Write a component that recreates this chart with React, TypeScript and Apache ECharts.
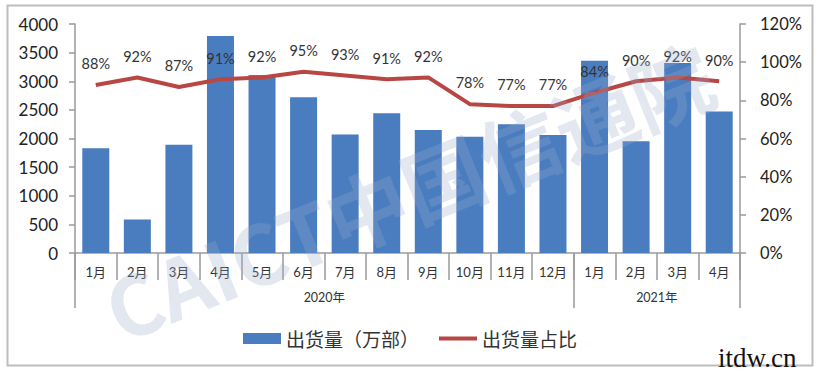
import React, { useEffect, useRef } from "react";
import * as echarts from "echarts";

const months = ["1月", "2月", "3月", "4月", "5月", "6月", "7月", "8月", "9月", "10月", "11月", "12月", "1月", "2月", "3月", "4月"];
const shipments = [1830, 585, 1890, 3790, 3110, 2720, 2070, 2440, 2150, 2030, 2250, 2060, 3360, 1950, 3320, 2470];
const shares = [88, 92, 87, 91, 92, 95, 93, 91, 92, 78, 77, 77, 84, 90, 92, 90];
const yearNames = ["2020年", "2021年"];
const yearSpans = [12, 4];
const leftTicks = { min: 0, max: 4000, interval: 500 };
const rightTicks = { min: 0, max: 120, interval: 20 };
const seriesNames = ["出货量（万部）", "出货量占比"];

const W = 820;
const H = 371;
const GRID = { left: 75, right: 80, top: 24, bottom: 118 };

export default function App() {
  const ref = useRef<HTMLDivElement>(null);
  useEffect(() => {
    if (!ref.current) return;
    const chart = echarts.init(ref.current, undefined, { renderer: "svg" });

    const starts: number[] = [];
    let acc = 0;
    yearSpans.forEach((s) => {
      starts.push(acc);
      acc += s;
    });
    const boundaryIdx = starts.slice();
    const labelIdx = starts.map((s, i) => s + Math.floor(yearSpans[i] / 2));
    const band = (W - GRID.left - GRID.right) / months.length;

    const numFont = "Lato, 'Noto Sans CJK SC', sans-serif";
    const axisColor = "#9a9a9a";
    const barColor = "#4a7dbf";
    const lineColor = "#b84744";

    chart.setOption({
      animation: false,
      backgroundColor: "#ffffff",
      grid: { ...GRID },
      legend: {
        left: 238,
        top: 324,
        itemGap: 20,
        itemWidth: 38,
        itemHeight: 11,
        symbolKeepAspect: false,
        textStyle: { fontSize: 19, color: "#333", fontFamily: "'Noto Sans CJK SC', sans-serif" },
        data: [
          { name: seriesNames[0], icon: "rect" },
          {
            name: seriesNames[1],
            icon: "path://M0 0M0 3.5H40V7.5H0ZM40 11",
            itemStyle: { color: lineColor },
          },
        ],
      },
      xAxis: [
        {
          type: "category",
          data: months,
          position: "bottom",
          axisLine: { show: true, lineStyle: { color: axisColor, width: 1.5 } },
          axisTick: { show: true, interval: 0, length: 27, lineStyle: { color: axisColor, width: 1.5 } },
          axisLabel: { interval: 0, fontSize: 13, color: "#333", margin: 12, fontFamily: numFont },
        },
        {
          type: "category",
          data: months,
          position: "bottom",
          axisLine: { show: false },
          axisTick: {
            show: true,
            length: 55,
            interval: (i: number) => boundaryIdx.includes(i),
            lineStyle: { color: axisColor, width: 1.5 },
          },
          axisLabel: {
            interval: (i: number) => labelIdx.includes(i),
            formatter: (_v: string, i: number) => {
              const k = labelIdx.indexOf(i);
              return k >= 0 ? yearNames[k] : "";
            },
            fontSize: 12.5,
            color: "#333",
            margin: 38,
            padding: [0, band, 0, 0],
            fontFamily: numFont,
          },
        },
      ],
      yAxis: [
        {
          type: "value",
          ...leftTicks,
          axisLine: { show: true, lineStyle: { color: axisColor, width: 1.5 } },
          axisTick: { show: true, length: 6, lineStyle: { color: axisColor, width: 1.5 } },
          splitLine: { show: false },
          axisLabel: {
            fontSize: 17,
            color: "#222",
            margin: 17,
            fontFamily: numFont,
            formatter: (v: number) => String(v),
          },
        },
        {
          type: "value",
          ...rightTicks,
          position: "right",
          axisLine: { show: true, lineStyle: { color: axisColor, width: 1.5 } },
          axisTick: { show: true, length: 6, lineStyle: { color: axisColor, width: 1.5 } },
          splitLine: { show: false },
          axisLabel: { fontSize: 16.5, color: "#222", margin: 20, formatter: "{value}%", fontFamily: numFont },
        },
      ],
      series: [
        {
          name: seriesNames[0],
          type: "bar",
          data: shipments,
          barWidth: 27,
          itemStyle: { color: barColor },
          z: 2,
        },
        {
          name: seriesNames[1],
          type: "line",
          yAxisIndex: 1,
          data: shares,
          symbol: "circle",
          symbolSize: 0.01,
          showSymbol: true,
          lineStyle: { color: lineColor, width: 4 },
          itemStyle: { color: lineColor },
          label: {
            show: true,
            position: "top",
            distance: 14,
            formatter: "{c}%",
            fontSize: 14.5,
            color: "#333",
            fontFamily: numFont,
          },
          z: 3,
        },
      ],
      graphic: [
        {
          type: "rect",
          left: 5,
          top: 3,
          shape: { width: 805, height: 360 },
          style: { fill: "none", stroke: "#bdbdbd", lineWidth: 2 },
          silent: true,
        },
        {
          type: "text",
          x: 408,
          y: 190,
          rotation: (22 * Math.PI) / 180,
          z: 100,
          silent: true,
          style: {
            text: "CAICT中国信通院",
            font: "bold 82px 'Noto Sans CJK SC', sans-serif",
            fill: "rgba(150,168,200,0.28)",
            align: "center",
            verticalAlign: "middle",
          },
        },
        {
          type: "text",
          x: 718,
          y: 371,
          z: 100,
          silent: true,
          style: {
            text: "itdw.cn",
            font: "27px 'Liberation Serif', serif",
            fill: "#111",
            align: "left",
            verticalAlign: "bottom",
          },
        },
      ],
    });
    return () => chart.dispose();
  }, []);

  return (
    <div
      ref={ref}
      style={{ position: "fixed", left: 0, top: 0, width: W, height: H, background: "#fff" }}
    />
  );
}
